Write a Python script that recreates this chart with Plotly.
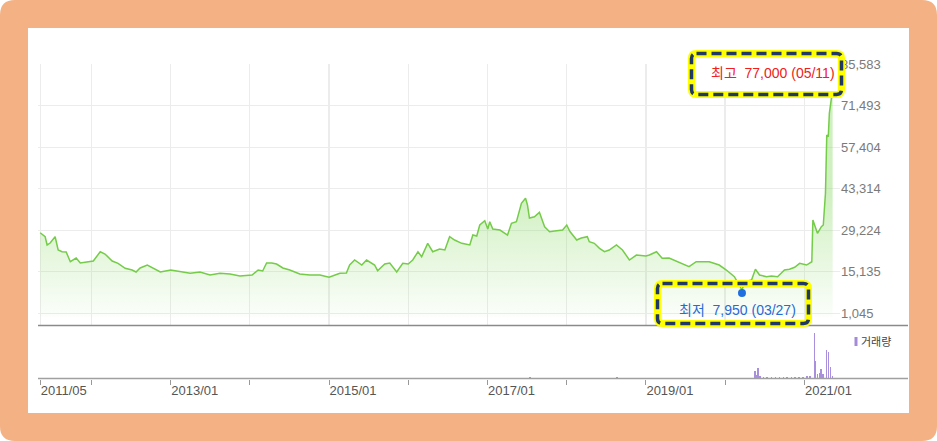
import plotly.graph_objects as go

W, H = 937, 441

# ---------------- data ----------------
dates = [
    "2011-05-10", "2011-06-02", "2011-06-11", "2011-06-25", "2011-07-18", "2011-08-01", "2011-08-19",
    "2011-09-07", "2011-09-26", "2011-10-23", "2011-11-11", "2011-12-17", "2012-01-10", "2012-02-11",
    "2012-03-04", "2012-04-06", "2012-05-03", "2012-06-05", "2012-07-07", "2012-07-25", "2012-08-13",
    "2012-09-15", "2012-10-08", "2012-11-14", "2013-01-01", "2013-02-15", "2013-04-01", "2013-05-16",
    "2013-07-01", "2013-08-16", "2013-10-01", "2013-11-16", "2014-01-11", "2014-02-08", "2014-03-01",
    "2014-03-19", "2014-04-12", "2014-05-04", "2014-06-02", "2014-07-04", "2014-08-19", "2014-10-04",
    "2014-11-20", "2015-01-01", "2015-02-20", "2015-03-22", "2015-04-06", "2015-04-29", "2015-06-01",
    "2015-06-23", "2015-07-30", "2015-08-13", "2015-09-15", "2015-10-08", "2015-11-09", "2015-12-07",
    "2016-01-01", "2016-01-22", "2016-02-15", "2016-03-03", "2016-03-31", "2016-04-23", "2016-05-25",
    "2016-06-18", "2016-07-10", "2016-08-02", "2016-09-04", "2016-10-11", "2016-10-25", "2016-11-12",
    "2016-11-26", "2016-12-19", "2017-01-02", "2017-01-11", "2017-01-25", "2017-02-27", "2017-04-03",
    "2017-04-21", "2017-05-14", "2017-06-06", "2017-06-25", "2017-07-04", "2017-07-13", "2017-08-05",
    "2017-08-28", "2017-09-21", "2017-10-14", "2017-11-06", "2017-12-13", "2018-01-01", "2018-01-15",
    "2018-02-16", "2018-03-09", "2018-04-06", "2018-04-15", "2018-05-08", "2018-06-01", "2018-06-24",
    "2018-07-16", "2018-08-18", "2018-09-15", "2018-10-17", "2018-11-18", "2019-01-01", "2019-01-17",
    "2019-02-19", "2019-03-17", "2019-04-18", "2019-05-25", "2019-07-19", "2019-08-21", "2019-10-20",
    "2019-12-05", "2020-01-07", "2020-02-13", "2020-03-19", "2020-04-01", "2020-05-02", "2020-05-20",
    "2020-06-08", "2020-07-10", "2020-08-02", "2020-08-30", "2020-10-01", "2020-10-24", "2020-11-17",
    "2020-12-10", "2021-01-11", "2021-02-04", "2021-02-09", "2021-03-02", "2021-03-20", "2021-03-29",
    "2021-04-08", "2021-04-14", "2021-04-21", "2021-04-26", "2021-05-11",
]
prices = [
    28380, 27020, 24210, 24880, 27020, 22510, 21930,
    21830, 18540, 19800, 18100, 18440, 18780, 21930,
    21150, 18780, 18000, 16300, 15730, 15050, 16410,
    17420, 16410, 15050, 15730, 15150, 14610, 15050,
    14030, 14610, 14370, 13690, 14030, 15730, 15390,
    18100, 18100, 17760, 16410, 15730, 14400, 14030,
    14030, 13250, 14610, 14710, 17420, 19120, 17420,
    19120, 17420, 15490, 17760, 18100, 15050, 18000,
    17760, 19120, 21930, 20240, 24780, 21930, 22850,
    22510, 27020, 25900, 24780, 24210, 27600, 27260,
    30990, 32450, 29630, 32110, 29630, 29290, 27600,
    31560, 32110, 38350, 40040, 37770, 33360, 33800,
    35290, 30410, 28720, 28950, 29290, 30990, 28850,
    25900, 26580, 27020, 25330, 24780, 23090, 21930,
    22510, 24210, 22510, 19120, 20810, 20480, 20810,
    21930, 19700, 19800, 18540, 16850, 18540, 18540,
    17420, 15730, 13460, 8950, 11760, 12340, 15970,
    14030, 13460, 13690, 13460, 15730, 15970, 16640,
    18000, 17420, 18540, 32680, 28170, 30410, 30990,
    41840, 61510, 60930, 68970, 77000,
]

vol_dates = [
    "2017-07-16", "2018-08-21", "2020-05-18", "2020-05-27", "2020-06-01", "2020-06-10", "2020-06-25",
    "2020-07-13", "2020-08-01", "2020-08-19", "2020-09-07", "2020-09-25", "2020-10-13", "2020-11-01",
    "2020-11-19", "2020-12-07", "2020-12-26", "2021-01-13", "2021-01-27", "2021-02-15", "2021-02-22",
    "2021-03-01", "2021-03-10", "2021-03-19", "2021-03-28", "2021-04-13", "2021-04-22", "2021-05-02",
    "2021-05-10",
]
volumes = [
    120, 120, 730, 400, 1020, 250, 200,
    180, 150, 200, 170, 150, 200, 180,
    150, 200, 170, 220, 250, 4600, 1780,
    500, 600, 1000, 500, 2850, 2700, 1150,
    300,
]

y_tickvals = [1045, 15135, 29224, 43314, 57404, 71493, 85583]
y_ticktext = ["1,045", "15,135", "29,224", "43,314", "57,404", "71,493", "85,583"]
x_tickvals = ["2011-05-10", "2012-01-01", "2013-01-01", "2014-01-01", "2015-01-01", "2016-01-01",
              "2017-01-01", "2018-01-01", "2019-01-01", "2020-01-01", "2021-01-01"]
x_ticktext = ["2011/05", "", "2013/01", "", "2015/01", "", "2017/01", "", "2019/01", "", "2021/01"]
x_range = ["2011-04-30", "2021-06-14"]

high_date, high_value, high_label = "2021-05-11", 77000, "05/11"
low_date, low_value, low_label = "2020-03-19", 7950, "03/27"
volume_label = "거래량"

# ---------------- helpers ----------------
def px(x):
    return x / W

def py(y):
    return 1 - y / H

def rounded_path(x0, y0, x1, y1, r):
    pts = [
        ("M", [(x0 + r, y0)]), ("L", [(x1 - r, y0)]), ("Q", [(x1, y0), (x1, y0 + r)]),
        ("L", [(x1, y1 - r)]), ("Q", [(x1, y1), (x1 - r, y1)]), ("L", [(x0 + r, y1)]),
        ("Q", [(x0, y1), (x0, y1 - r)]), ("L", [(x0, y0 + r)]), ("Q", [(x0, y0), (x0 + r, y0)]),
    ]
    s = ""
    for cmd, ps in pts:
        s += cmd + " " + " ".join(f"{px(a):.5f},{py(b):.5f}" for a, b in ps) + " "
    return s + "Z"

FONT = "Liberation Sans, Noto Sans CJK KR, Arial, sans-serif"

# ---------------- figure ----------------
fig = go.Figure()

fig.add_trace(go.Scatter(
    x=dates, y=prices, mode="lines", xaxis="x", yaxis="y",
    line=dict(color="#74cc48", width=1.5),
    fill="tozeroy",
    fillgradient=dict(type="vertical", start=0, stop=42000,
                      colorscale=[[0, "rgba(130,215,90,0.03)"], [1, "rgba(130,215,90,0.38)"]]),
    hoverinfo="skip", showlegend=False,
))

fig.add_trace(go.Scatter(
    x=[high_date], y=[high_value], mode="markers", xaxis="x", yaxis="y",
    marker=dict(color="#ee1111", size=8), hoverinfo="skip", showlegend=False,
))
fig.add_trace(go.Scatter(
    x=[low_date], y=[low_value], mode="markers", xaxis="x", yaxis="y",
    marker=dict(color="#1f6fe0", size=8), hoverinfo="skip", showlegend=False,
))

fig.add_trace(go.Bar(
    x=vol_dates, y=volumes, xaxis="x2", yaxis="y2",
    marker=dict(color="#a890dc", line=dict(width=0)),
    width=86400000 * 6, hoverinfo="skip", showlegend=False,
))

xdom = [px(38), px(840)]

fig.update_layout(
    width=W, height=H,
    margin=dict(l=0, r=0, t=0, b=0),
    paper_bgcolor="white", plot_bgcolor="rgba(0,0,0,0)",
    showlegend=False, bargap=0,
    xaxis=dict(domain=xdom, range=x_range, type="date", anchor="y",
               tickvals=x_tickvals, ticktext=x_ticktext, showticklabels=False, ticks="",
               showgrid=True, gridcolor="#ececec", gridwidth=1.2, zeroline=False, showline=False,
               automargin=False),
    yaxis=dict(domain=[py(325.5), py(64)], range=[-3092, 85600], anchor="x", side="right",
               tickvals=y_tickvals, ticktext=y_ticktext, ticks="",
               showgrid=True, gridcolor="#ececec", gridwidth=1.2, zeroline=False, showline=False,
               tickfont=dict(family=FONT, size=13, color="#7a7a7a"), automargin=False),
    xaxis2=dict(domain=xdom, range=x_range, type="date", anchor="y2", matches="x",
                tickvals=x_tickvals, ticktext=x_ticktext, ticks="outside", ticklen=5,
                tickcolor="#999999", tickwidth=1, ticklabelposition="outside right",
                tickfont=dict(family=FONT, size=13, color="#555555"),
                showgrid=False, zeroline=False, showline=False, automargin=False),
    yaxis2=dict(domain=[py(378.5), py(327)], range=[0, 5200], anchor="x2",
                showgrid=False, zeroline=False, showticklabels=False, ticks="", showline=False),
)

shapes = []
# orange rounded frame + white panel
shapes.append(dict(type="path", xref="paper", yref="paper", path=rounded_path(0, 0, W, H, 15),
                   fillcolor="#F4B183", line=dict(width=0), layer="below"))
shapes.append(dict(type="rect", xref="paper", yref="paper", x0=px(28), x1=px(909), y0=py(413), y1=py(28),
                   fillcolor="white", line=dict(width=0), layer="below"))
# separator & bottom axis lines
shapes.append(dict(type="line", xref="paper", yref="paper", x0=px(38), x1=px(908), y0=py(325.5), y1=py(325.5),
                   line=dict(color="#8a8a8a", width=1.6), layer="above"))
shapes.append(dict(type="line", xref="paper", yref="paper", x0=px(38), x1=px(908), y0=py(378.5), y1=py(378.5),
                   line=dict(color="#a0a0a0", width=1.4), layer="above"))
# volume legend marker
shapes.append(dict(type="rect", xref="paper", yref="paper", x0=px(854.5), x1=px(857.5), y0=py(346), y1=py(337),
                   fillcolor="#a38bd8", line=dict(width=0), layer="above"))
# highlight boxes
for (bx0, by0, bx1, by1, fill) in [(691.5, 53.5, 841.5, 94.5, "white"), (657.5, 283.5, 808.5, 323.5, "rgba(0,0,0,0)")]:
    p = rounded_path(bx0, by0, bx1, by1, 5)
    shapes.append(dict(type="path", xref="paper", yref="paper", path=p, fillcolor=fill,
                       line=dict(color="#ffff00", width=7), layer="above"))
    shapes.append(dict(type="path", xref="paper", yref="paper", path=p, fillcolor="rgba(0,0,0,0)",
                       line=dict(color="#1f3864", width=3.5, dash="10px,5px"), layer="above"))
fig.update_layout(shapes=shapes)

annotations = [
    dict(xref="paper", yref="paper", x=px(837), y=py(73), xanchor="right", yanchor="middle",
         text=f"최고\u00a0 {high_value:,} ({high_label})", showarrow=False,
         font=dict(family=FONT, size=14, color="#f02020")),
    dict(xref="paper", yref="paper", x=px(798), y=py(310), xanchor="right", yanchor="middle",
         text=f"최저\u00a0 {low_value:,} ({low_label})", showarrow=False,
         font=dict(family=FONT, size=14, color="#2a6ad4")),
    dict(xref="paper", yref="paper", x=px(859), y=py(341.5), xanchor="left", yanchor="middle",
         text=volume_label, showarrow=False,
         font=dict(family=FONT, size=11, color="#444444")),
]
fig.update_layout(annotations=annotations)

fig.write_html(
    "out.html",
    config={"displayModeBar": False, "staticPlot": True},
    post_script="document.body.style.margin='0';document.body.style.overflow='hidden';",
)
